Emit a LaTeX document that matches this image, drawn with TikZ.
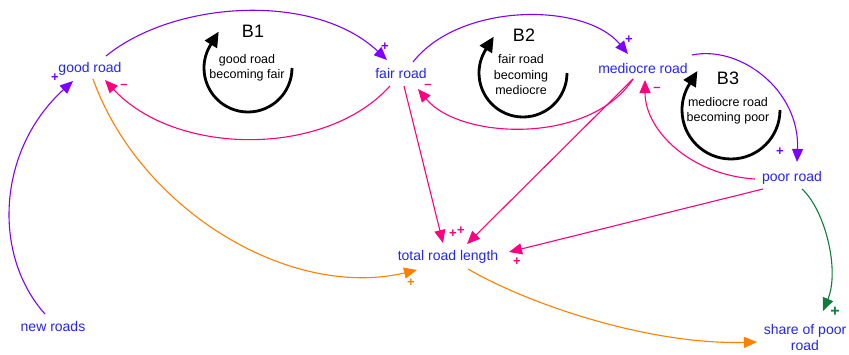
\documentclass[tikz,border=0pt]{standalone}
\usepackage{fontspec}
\setmainfont{Liberation Sans}
\usetikzlibrary{arrows.meta}
\definecolor{cpurple}{RGB}{128,0,255}
\definecolor{cpink}{RGB}{255,0,128}
\definecolor{corange}{RGB}{255,128,0}
\definecolor{cgreen}{RGB}{16,124,60}
\definecolor{cblue}{RGB}{35,35,255}
\begin{document}
\begin{tikzpicture}[x=1pt,y=-1pt,
  var/.style={text=cblue, font=\fontsize{14}{16}\selectfont, inner sep=0pt, align=center},
  link/.style={line width=1.1pt, -{Triangle[length=13pt,width=11pt]}},
  loopname/.style={font=\fontsize{18}{20}\selectfont, inner sep=0pt},
  loopdesc/.style={font=\fontsize{12.5}{15.5}\selectfont, align=center, inner sep=0pt},
  looparc/.style={line width=2.8pt, -{Triangle[length=15pt,width=14pt]}},
  sgn/.style={font=\fontsize{13}{13}\selectfont\bfseries, inner sep=0pt},
]
\useasboundingbox (0,0) rectangle (849,354);

% variables
\node[var] (good)  at (90,69)   {good road};
\node[var] (fair)  at (401,73)  {fair road};
\node[var] (med)   at (643,68)  {mediocre road};
\node[var] (poor)  at (792,178) {poor road};
\node[var] (total) at (448,257) {total road length};
\node[var] (new)   at (53,326)  {new roads};
\node[var] (share) at (805,337) {share of poor\\road};

% loops
\node[loopname] (b1) at (253,31) {B1};
\node[loopdesc] (b1d) at (247,68) {good road\\becoming fair};
\draw[looparc] (292,68) arc[start angle=0,end angle=212,radius=44] -- ++(8,-13);
\node[loopname] (b2) at (524,35) {B2};
\node[loopdesc] (b2d) at (521,75) {fair road\\becoming\\mediocre};
\draw[looparc] (567,73) arc[start angle=0,end angle=212,radius=44] -- ++(8,-13);
\node[loopname] (b3) at (728,78) {B3};
\node[loopdesc] (b3d) at (728,111) {mediocre road\\becoming poor};
\draw[looparc] (780,110) arc[start angle=0,end angle=212,radius=49] -- ++(8,-13);

% connectors
\draw[link, cpurple] ([shift={(16,-13)}]good.center) .. controls (175,0) and (315,-8) .. ([shift={(-14,-13)}]fair.center);
\draw[link, cpink] ([shift={(-11,13)}]fair.center) .. controls (325,158) and (175,156) .. ([shift={(15,11)}]good.center);
\draw[link, cpurple] ([shift={(12,-11)}]fair.center) .. controls (460,2) and (585,2) .. ([shift={(-15,-14)}]med.center);
\draw[link, cpink] ([shift={(-10,11)}]med.center) .. controls (590,145) and (460,140) .. ([shift={(17,16)}]fair.center);
\draw[link, cpurple] ([shift={(49,-13)}]med.center) .. controls (740,45) and (800,90) .. ([shift={(5,-16)}]poor.center);
\draw[white, line width=3pt] (750,62.5) -- (757,68.5);
\draw[link, cpink] ([shift={(-37,1)}]poor.center) .. controls (690,175) and (645,130) .. ([shift={(2,12)}]med.center);
\draw[link, cpink] ([shift={(3,13)}]fair.center) -- ([shift={(-5,-14)}]total.center);
\draw[link, cpink] ([shift={(-10,11)}]med.center) -- ([shift={(19,-13)}]total.center);
\draw[link, cpink] ([shift={(-29,11)}]poor.center) -- ([shift={(61,-5)}]total.center);
\draw[link, corange] ([shift={(3,10)}]good.center) .. controls (140,210) and (290,300) .. ([shift={(-31,13)}]total.center);
\draw[link, cpurple] ([shift={(-8,-12)}]new.center) .. controls (-8,255) and (-3,150) .. ([shift={(-17,12)}]good.center);
\draw[link, corange] ([shift={(20,12)}]total.center) .. controls (530,305) and (650,345) .. ([shift={(-48,5)}]share.center);
\draw[link, cgreen] ([shift={(10,11)}]poor.center) .. controls (825,210) and (840,270) .. ([shift={(18,-26)}]share.center);

% polarity signs
\node[sgn, cpink]   (m1) at (124,86) {--};
\node[sgn, cpurple] (p1) at (385,47) {+};
\node[sgn, cpurple] (p2) at (629,40) {+};
\node[sgn, cpink]   (m2) at (428,86) {--};
\node[sgn, cpurple] (p3) at (780,152) {+};
\node[sgn, cpink]   (m3) at (657,89) {--};
\node[sgn, cpurple] (p4) at (55,78) {+};
\node[sgn, corange] (p5) at (411,283) {+};
\node[sgn, cpink]   (p6) at (453,234) {+};
\node[sgn, cpink]   (p7) at (461,231) {+};
\node[sgn, cpink]   (p8) at (517,262) {+};
\node[sgn, cgreen, font=\fontsize{16}{16}\selectfont\bfseries] (p9) at (835,312) {+};
\end{tikzpicture}
\end{document}
